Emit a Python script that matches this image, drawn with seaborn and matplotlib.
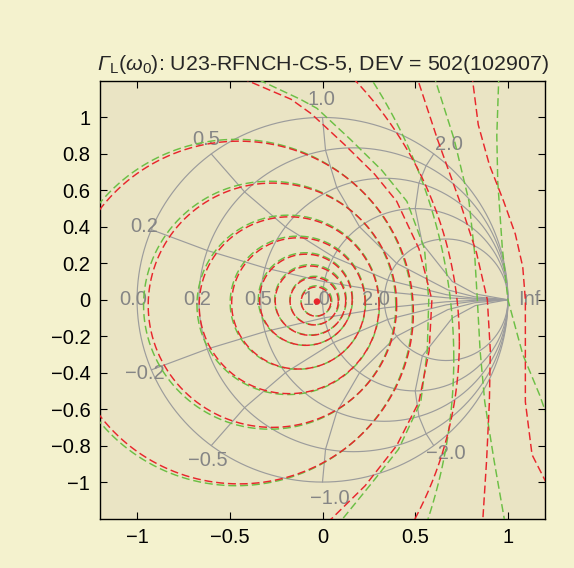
import numpy as np
import pandas as pd
import matplotlib
matplotlib.use("Agg")
import matplotlib.pyplot as plt
import seaborn as sns

# ---------------- data ----------------
title_text = (r"$\Gamma_{\mathsf{L}}\mathsf{(}\omega_{\mathsf{0}}\mathsf{)}$"
              ": U23-RFNCH-CS-5, DEV = 502(102907)")

x_ticks = [-1, -0.5, 0, 0.5, 1]
x_tick_labels = ["\u22121", "\u22120.5", "0", "0.5", "1"]
y_ticks = [-1, -0.8, -0.6, -0.4, -0.2, 0, 0.2, 0.4, 0.6, 0.8, 1]
y_tick_labels = ["\u22121", "\u22120.8", "\u22120.6", "\u22120.4", "\u22120.2", "0",
                 "0.2", "0.4", "0.6", "0.8", "1"]

# Smith chart grid: constant resistance circles and reactance lines
smith_r = [0.0, 0.2, 0.5, 1.0, 2.0]
smith_x = [0.2, 0.5, 1.0, 2.0, -0.2, -0.5, -1.0, -2.0]
smith_x_nodes_r = [0.0, 0.2, 0.5, 1.0, 2.0, 5.0, 10.0]

smith_labels = ["0.0", "0.2", "0.5", "1.0", "2.0",
                "0.2", "0.5", "1.0", "2.0",
                "\u22120.2", "\u22120.5", "\u22121.0", "\u22122.0"]
smith_label_x = [-1.02, -0.675, -0.345, -0.035, 0.29,
                 -0.963, -0.627, -0.008, 0.68,
                 -0.957, -0.62, 0.04, 0.665]
smith_label_y = [0.0, 0.0, 0.0, 0.0, 0.0,
                 0.40, 0.88, 1.10, 0.85,
                 -0.405, -0.88, -1.09, -0.845]
inf_label = "Inf"
inf_label_x = 1.055
inf_label_y = 0.0

optimum_x = [-0.03]
optimum_y = [-0.01]

# closed DEV contours (approximated as circles): centre and radius
red_ring_cx = [-0.035, -0.045, -0.065, -0.09, -0.13, -0.18, -0.27, -0.45, -1.365]
red_ring_cy = [-0.01, -0.008, -0.005, 0.0, -0.02, -0.03, -0.03, -0.07, -0.2275]
red_ring_r = [0.08, 0.13, 0.19, 0.25, 0.36, 0.485, 0.67, 0.94, 2.103]

green_ring_cx = [-0.033, -0.043, -0.065, -0.092, -0.133, -0.185, -0.285, -0.465, -2.153]
green_ring_cy = [-0.006, -0.004, 0.0, 0.004, -0.016, -0.028, -0.03, -0.07, -0.3217]
green_ring_r = [0.083, 0.133, 0.193, 0.254, 0.365, 0.492, 0.68, 0.95, 2.861]

# open DEV contours
red_open_9_x = [-0.55, -0.40, -0.17, -0.06, 0.12, 0.28, 0.40, 0.52, 0.59, 0.575, 0.52, 0.40, 0.23, 0.05, -0.05]
red_open_9_y = [1.28, 1.2, 1.1, 1.02, 0.85, 0.69, 0.54, 0.28, 0.0, -0.28, -0.56, -0.80, -1.02, -1.2, -1.28]
green_open_9_x = [-0.45, -0.33, -0.12, -0.03, 0.15, 0.32, 0.455, 0.55, 0.573, 0.565, 0.53, 0.41, 0.27, 0.11, 0.03]
green_open_9_y = [1.28, 1.2, 1.1, 1.05, 0.88, 0.71, 0.54, 0.28, 0.0, -0.28, -0.56, -0.82, -1.0, -1.2, -1.3]

red_open_a_x = [0.50, 0.62, 0.74, 0.83, 0.889, 0.905, 0.90, 0.885, 0.865, 0.86]
red_open_a_y = [1.25, 0.88, 0.54, 0.26, 0.0, -0.28, -0.56, -0.88, -1.2, -1.3]
red_open_b_x = [0.78, 0.81, 0.84, 0.90, 0.977, 1.04, 1.08, 1.094, 1.094, 1.094, 1.13, 1.24, 1.32]
red_open_b_y = [1.3, 1.2, 0.96, 0.74, 0.54, 0.36, 0.18, 0.0, -0.28, -0.56, -0.85, -1.07, -1.2]
green_open_a_x = [0.58, 0.61, 0.71, 0.79, 0.82, 0.835, 0.85, 0.875, 0.925, 0.98, 1.0]
green_open_a_y = [1.3, 1.2, 0.88, 0.54, 0.26, 0.0, -0.28, -0.56, -0.88, -1.2, -1.3]
green_open_b_x = [0.955, 0.95, 0.94, 0.945, 0.97, 1.0, 1.08, 1.17, 1.24, 1.3]
green_open_b_y = [1.3, 1.2, 0.9, 0.65, 0.28, 0.0, -0.3, -0.52, -0.72, -0.85]

# ---------------- style ----------------
sns.set_style("ticks")
plt.rcParams["font.family"] = ["Liberation Sans", "DejaVu Sans"]
plt.rcParams["mathtext.fontset"] = "custom"
plt.rcParams["mathtext.rm"] = "Liberation Sans:italic"
plt.rcParams["mathtext.it"] = "Liberation Sans:italic"
plt.rcParams["mathtext.sf"] = "Liberation Sans"

fig_bg = "#F4F2CE"
ax_bg = "#EAE4C4"
grid_col = "#9C9C9C"
label_col = "#858585"
red_col = "#E8262C"
green_col = "#6CBF45"
dash = (0, (5.5, 2.6))

fig = plt.figure(figsize=(5.74, 5.68), dpi=100, facecolor=fig_bg)
ax = fig.add_axes([0.1742, 0.0871, 0.7753, 0.7703])
ax.set_facecolor(ax_bg)

# ---------------- Smith chart grid ----------------
t = np.linspace(0, 2 * np.pi, 721)
for r in smith_r:
    c = r / (1 + r)
    rad = 1 / (1 + r)
    ax.plot(c + rad * np.cos(t), rad * np.sin(t), color=grid_col, lw=0.85, zorder=1)

for xv in smith_x:
    z = np.array(smith_x_nodes_r) + 1j * xv
    g = (z - 1) / (z + 1)
    gx = np.append(g.real, 1.0)
    gy = np.append(g.imag, 0.0)
    ax.plot(gx, gy, color=grid_col, lw=0.85, zorder=1)

for s, lx, ly in zip(smith_labels, smith_label_x, smith_label_y):
    ax.text(lx, ly, s, color=label_col, fontsize=14.5, ha="center", va="center", zorder=2)
ax.text(inf_label_x, inf_label_y, inf_label, color=label_col, fontsize=14.5,
        ha="left", va="center", zorder=2, clip_on=False)

# ---------------- DEV contours ----------------
def ring_df(cx, cy, r):
    return pd.DataFrame({"x": cx + r * np.cos(t), "y": cy + r * np.sin(t)})

def draw(xs, ys, col, z):
    sns.lineplot(x=xs, y=ys, sort=False, estimator=None, color=col,
                 lw=1.05, linestyle=dash, ax=ax, zorder=z, legend=False)

for cx, cy, r in zip(green_ring_cx, green_ring_cy, green_ring_r):
    d = ring_df(cx, cy, r)
    draw(d["x"].values, d["y"].values, green_col, 3)
for xs, ys in [(green_open_9_x, green_open_9_y), (green_open_a_x, green_open_a_y),
               (green_open_b_x, green_open_b_y)]:
    draw(xs, ys, green_col, 3)

for cx, cy, r in zip(red_ring_cx, red_ring_cy, red_ring_r):
    d = ring_df(cx, cy, r)
    draw(d["x"].values, d["y"].values, red_col, 4)
for xs, ys in [(red_open_9_x, red_open_9_y), (red_open_a_x, red_open_a_y),
               (red_open_b_x, red_open_b_y)]:
    draw(xs, ys, red_col, 4)

sns.scatterplot(x=optimum_x, y=optimum_y, color=red_col, s=22, edgecolor="none",
                ax=ax, zorder=5, legend=False)

# ---------------- axes ----------------
ax.set_xlim(-1.2, 1.2)
ax.set_ylim(-1.2, 1.2)
ax.set_xticks(x_ticks)
ax.set_xticklabels(x_tick_labels)
ax.set_yticks(y_ticks)
ax.set_yticklabels(y_tick_labels)
ax.set_xlabel("")
ax.set_ylabel("")
ax.tick_params(direction="in", length=5, width=0.8, top=True, right=True,
               labelsize=14.5, pad=7, colors="black")
for sp in ax.spines.values():
    sp.set_visible(True)
    sp.set_linewidth(1.0)
    sp.set_color("black")
ax.set_title(title_text, fontsize=15.4, pad=8)

fig.savefig("out.png", dpi=100, facecolor=fig_bg)
